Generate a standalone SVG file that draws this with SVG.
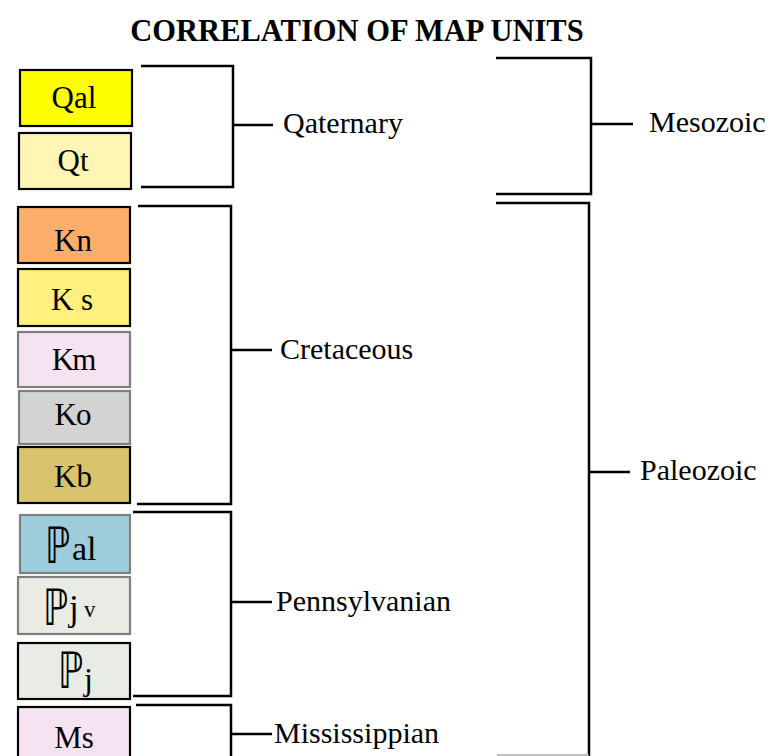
<svg xmlns="http://www.w3.org/2000/svg" width="775" height="756" viewBox="0 0 775 756">
<style>
.bx{stroke:#000;stroke-width:2.2}
.gb{stroke:#7f7f7f;stroke-width:2.2}
.lb{font-family:"Liberation Serif","Times New Roman","DejaVu Serif",serif;font-size:31px;fill:#000;text-anchor:middle}
.ls{font-family:"Liberation Serif","Times New Roman","DejaVu Serif",serif;fill:#000}
.rl{font-family:"Liberation Serif","Times New Roman","DejaVu Serif",serif;font-size:30px;fill:#000}
.pp{font-family:"DejaVu Sans","Noto Sans",sans-serif;font-size:50px;fill:#000}
.br{fill:none;stroke:#000;stroke-width:2.5}
.title{font-family:"Liberation Serif","Times New Roman",serif;font-weight:bold;font-size:30.5px;text-anchor:middle}
</style>
<rect width="775" height="756" fill="#fff"/>
<text class="title" x="357" y="41">CORRELATION OF MAP UNITS</text>

<g id="Qal"><rect class="bx" x="20" y="70" width="112" height="56" fill="#FFFF00"/><text class="lb" x="74" y="108">Qal</text></g>
<g id="Qt"><rect class="bx" x="19" y="133" width="112" height="56" fill="#FFF5B5"/><text class="lb" x="73" y="171">Qt</text></g>
<g id="Kn"><rect class="bx" x="18" y="207" width="112" height="56" fill="#FFAD6B"/><text class="lb" x="73" y="251">Kn</text></g>
<g id="Ks"><rect class="bx" x="18" y="269" width="112" height="57" fill="#FFF080"/><text class="lb" x="72" y="310">K s</text></g>
<g id="Km"><rect class="gb" x="18" y="332" width="112" height="55" fill="#F5E3F2"/><text class="lb" x="74" y="370">K<tspan dx="-2">m</tspan></text></g>
<g id="Ko"><rect class="gb" x="19" y="391" width="111" height="53" fill="#D3D3D3"/><text class="lb" x="73" y="425">K<tspan dx="-1">o</tspan></text></g>
<g id="Kb"><rect class="bx" x="18" y="447" width="112" height="56" fill="#D9C36A"/><text class="lb" x="73" y="487">Kb</text></g>
<g id="Pal"><rect class="gb" x="20" y="515" width="110" height="58" fill="#9DCCDA"/>
<text class="pp" transform="translate(45,563) scale(0.72,1)">ℙ</text>
<text class="ls" x="72" y="560" font-size="34">al</text></g>
<g id="Pjv"><rect class="gb" x="18" y="577" width="112" height="57" fill="#E8ECE4"/>
<text class="pp" transform="translate(43,625) scale(0.72,1)">ℙ</text>
<text class="ls" x="69" y="620" font-size="35">j</text>
<text class="ls" x="84" y="617" font-size="23">v</text></g>
<g id="Pj"><rect class="bx" x="18" y="643" width="112" height="56" fill="#E8ECE4"/>
<text class="pp" transform="translate(58,688) scale(0.72,1)">ℙ</text>
<text class="ls" x="84" y="690" font-size="32">j</text></g>
<g id="Ms"><rect class="bx" x="18" y="707" width="112" height="56" fill="#F5E3F2"/><text class="lb" x="74" y="748">Ms</text></g>

<g id="connectors">
<path class="br" d="M141,66 H233 V187 H141 M233,125 H273"/>
<path class="br" d="M138,206 H231 V504 H137 M231,350 H272"/>
<path class="br" d="M133,512 H231 V696 H133 M231,602 H272"/>
<path class="br" d="M136,705 H231 V757 M231,734 H272"/>
<path class="br" d="M496,58 H591 V194 H496 M591,124 H633"/>
<path class="br" d="M496,203 H589 V757 M589,472 H630"/>
<path d="M497,755 H589" stroke="#aaa" stroke-width="1.5"/>
</g>

<g id="labels">
<text class="rl" x="283" y="133">Qaternary</text>
<text class="rl" x="280" y="359">Cretaceous</text>
<text class="rl" x="276" y="611">Pennsylvanian</text>
<text class="rl" x="274" y="743">Mississippian</text>
<text class="rl" x="649" y="132">Mesozoic</text>
<text class="rl" x="640" y="480">Paleozoic</text>
</g>
</svg>
